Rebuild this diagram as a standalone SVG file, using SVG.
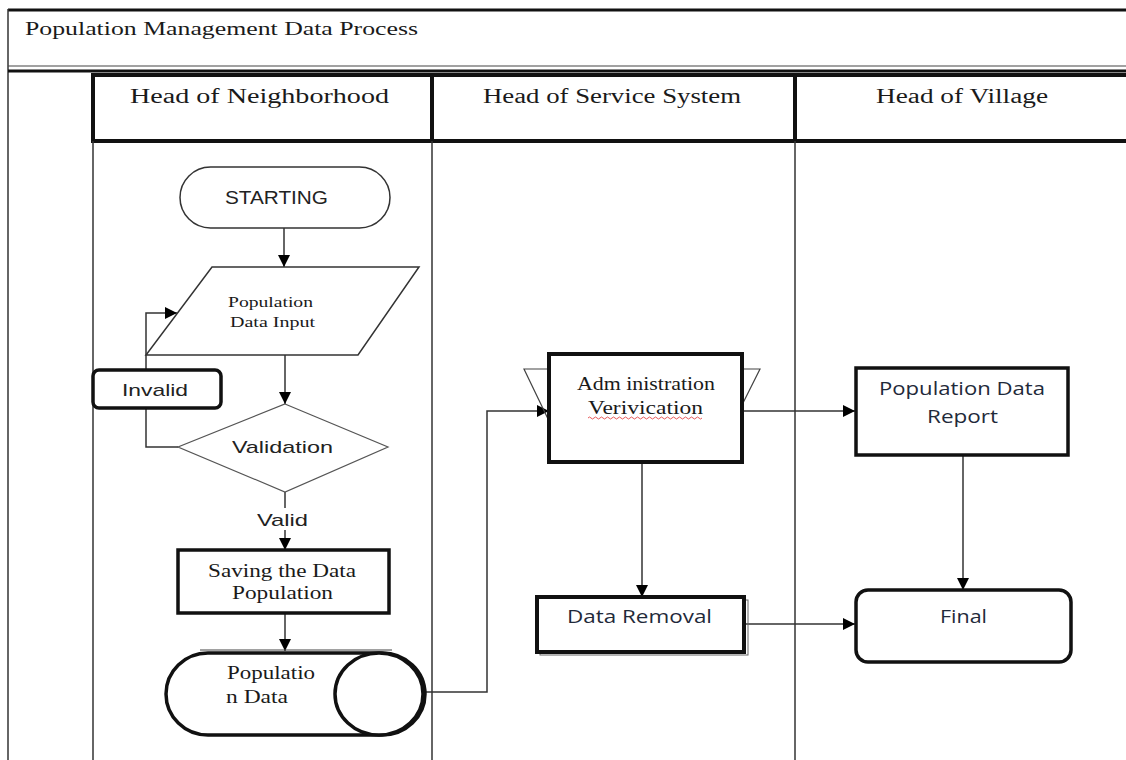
<svg xmlns="http://www.w3.org/2000/svg" width="1126" height="760" viewBox="0 0 1126 760">
<defs>
<marker id="ah" viewBox="0 0 10 10" refX="10" refY="5" markerWidth="12" markerHeight="12" markerUnits="userSpaceOnUse" orient="auto"><path d="M0,0 L10,5 L0,10 z" fill="#000"/></marker>
<style>
text{lengthAdjust:spacingAndGlyphs}
.serif{font-family:"Liberation Serif","Times New Roman",serif;fill:#1a1a1a}
.sans{font-family:"Liberation Sans",Arial,sans-serif;fill:#222}
.cal{font-family:"Open Sans","Liberation Sans",sans-serif;fill:#1f2a3a}
.conn{fill:none;stroke:#333;stroke-width:1.5}
.arr{fill:none;stroke:#333;stroke-width:1.5;marker-end:url(#ah)}
</style>
</defs>
<rect width="1126" height="760" fill="#fff"/>
<g id="frame">
<line x1="8" y1="10" x2="1126" y2="10" stroke="#111" stroke-width="3"/>
<line x1="8" y1="9" x2="8" y2="760" stroke="#333" stroke-width="1.5"/>
<line x1="8" y1="66" x2="1126" y2="66" stroke="#444" stroke-width="1.2"/>
<line x1="8" y1="71" x2="1126" y2="71" stroke="#111" stroke-width="3"/>
<text class="serif" x="25" y="35" font-size="19" textLength="393" lengthAdjust="spacingAndGlyphs">Population Management Data Process</text>
</g>
<g id="lanes">
<line x1="93" y1="75" x2="1126" y2="75" stroke="#111" stroke-width="4"/>
<line x1="93" y1="141" x2="1126" y2="141" stroke="#111" stroke-width="4"/>
<line x1="93" y1="73" x2="93" y2="143" stroke="#111" stroke-width="4"/>
<line x1="432" y1="73" x2="432" y2="143" stroke="#111" stroke-width="4"/>
<line x1="795" y1="73" x2="795" y2="143" stroke="#111" stroke-width="4"/>
<line x1="93" y1="141" x2="93" y2="760" stroke="#333" stroke-width="1.5"/>
<line x1="432" y1="141" x2="432" y2="760" stroke="#333" stroke-width="1.5"/>
<line x1="795" y1="141" x2="795" y2="760" stroke="#333" stroke-width="1.5"/>
<text class="serif" x="130" y="103" font-size="20" textLength="259" lengthAdjust="spacingAndGlyphs">Head of Neighborhood</text>
<text class="serif" x="483" y="103" font-size="20" textLength="258" lengthAdjust="spacingAndGlyphs">Head of Service System</text>
<text class="serif" x="876" y="103" font-size="20" textLength="172" lengthAdjust="spacingAndGlyphs">Head of Village</text>
</g>
<g id="connectors">
<line class="arr" x1="284" y1="228" x2="284" y2="267"/>
<line class="arr" x1="285" y1="355" x2="285" y2="404"/>
<polyline class="arr" points="178,447 146,447 146,313 177,313"/>
<line class="conn" x1="285" y1="492" x2="285" y2="508"/>
<line class="arr" x1="285" y1="530" x2="285" y2="550"/>
<line class="arr" x1="285" y1="613" x2="285" y2="651"/>
<polyline class="arr" points="425,692 487,692 487,411 549,411"/>
<line class="arr" x1="742" y1="411" x2="855" y2="411"/>
<line class="arr" x1="642" y1="462" x2="642" y2="597"/>
<line class="arr" x1="745" y1="624" x2="855" y2="624"/>
<line class="arr" x1="963" y1="455" x2="963" y2="590"/>
</g>
<g id="n-start">
<rect x="180" y="167" width="210" height="61" rx="30.5" fill="#fff" stroke="#333" stroke-width="1.5"/>
<text class="sans" x="225" y="204" font-size="18" textLength="103" lengthAdjust="spacingAndGlyphs">STARTING</text>
</g>
<g id="n-input">
<polygon points="212,267 419,267 358,355 146,355" fill="#fff" stroke="#333" stroke-width="1.5"/>
<text class="serif" x="228" y="307" font-size="15" textLength="85" lengthAdjust="spacingAndGlyphs">Population</text>
<text class="serif" x="230" y="327" font-size="15" textLength="85" lengthAdjust="spacingAndGlyphs">Data Input</text>
</g>
<g id="n-invalid">
<rect x="93" y="370" width="128" height="38" rx="6" fill="#fff" stroke="#111" stroke-width="3.5"/>
<text class="sans" x="122" y="396" font-size="17" textLength="66" lengthAdjust="spacingAndGlyphs">Invalid</text>
</g>
<g id="n-validation">
<polygon points="285,404 388,447 285,492 178,447" fill="#fff" stroke="#555" stroke-width="1.2"/>
<text class="sans" x="232" y="453" font-size="17" textLength="101" lengthAdjust="spacingAndGlyphs" fill="#333">Validation</text>
</g>
<text id="lbl-valid" class="sans" x="257" y="526" font-size="17" textLength="51" lengthAdjust="spacingAndGlyphs" fill="#333">Valid</text>
<g id="n-saving">
<rect x="178" y="550" width="211" height="63" fill="#fff" stroke="#111" stroke-width="3.5"/>
<text class="serif" x="208" y="577" font-size="18" textLength="148" lengthAdjust="spacingAndGlyphs">Saving the Data</text>
<text class="serif" x="232" y="599" font-size="18" textLength="101" lengthAdjust="spacingAndGlyphs">Population</text>
</g>
<g id="n-popdata">
<line x1="200" y1="650" x2="392" y2="650" stroke="#444" stroke-width="1.2"/>
<path d="M208,653 L382,653 A43,41 0 0 1 382,735 L208,735 A42,41 0 0 1 208,653 Z" fill="#fff" stroke="#111" stroke-width="3.5"/>
<ellipse cx="379" cy="694" rx="44" ry="41" fill="#fff" stroke="#111" stroke-width="3.5"/>
<text class="serif" x="227" y="679" font-size="18" textLength="88" lengthAdjust="spacingAndGlyphs">Populatio</text>
<text class="serif" x="226" y="703" font-size="18" textLength="62" lengthAdjust="spacingAndGlyphs">n Data</text>
</g>
<g id="n-admin">
<polyline points="549,421 524,369 760,369 742,405" fill="none" stroke="#444" stroke-width="1.2"/>
<rect x="549" y="354" width="193" height="108" fill="#fff" stroke="#111" stroke-width="4"/>
<text class="serif" x="577" y="390" font-size="18" textLength="138" lengthAdjust="spacingAndGlyphs">Adm inistration</text>
<text class="serif" x="588" y="414" font-size="18" textLength="115" lengthAdjust="spacingAndGlyphs">Verivication</text>
<path d="M588,418 q1.5,-2 3,0 t3,0 t3,0 t3,0 t3,0 t3,0 t3,0 t3,0 t3,0 t3,0 t3,0 t3,0 t3,0 t3,0 t3,0 t3,0 t3,0 t3,0 t3,0 t3,0 t3,0 t3,0 t3,0 t3,0 t3,0 t3,0 t3,0 t3,0 t3,0 t3,0 t3,0 t3,0 t3,0 t3,0 t3,0 t3,0 t3,0 t3,0" fill="none" stroke="#e03030" stroke-width="0.8"/>
</g>
<g id="n-removal">
<rect x="540" y="600" width="208" height="55" fill="none" stroke="#666" stroke-width="1"/>
<rect x="537" y="597" width="207" height="55" fill="#fff" stroke="#111" stroke-width="4"/>
<text class="cal" x="567" y="623" font-size="18" textLength="145" lengthAdjust="spacingAndGlyphs">Data Removal</text>
</g>
<g id="n-report">
<rect x="856" y="368" width="212" height="87" fill="#fff" stroke="#111" stroke-width="3.5"/>
<text class="cal" x="879" y="395" font-size="18" textLength="166" lengthAdjust="spacingAndGlyphs">Population Data</text>
<text class="cal" x="927" y="423" font-size="18" textLength="71" lengthAdjust="spacingAndGlyphs">Report</text>
</g>
<g id="n-final">
<rect x="856" y="590" width="215" height="72" rx="12" fill="#fff" stroke="#111" stroke-width="3.5"/>
<text class="cal" x="940" y="623" font-size="18" textLength="47" lengthAdjust="spacingAndGlyphs">Final</text>
</g>
</svg>
